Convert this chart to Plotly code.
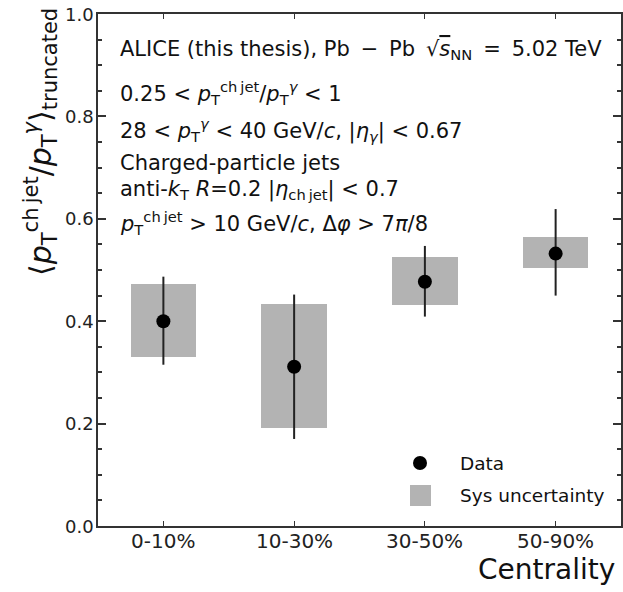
import plotly.graph_objects as go

# Centrality classes and measured values
centrality = ["0-10%", "10-30%", "30-50%", "50-90%"]
mean_ratio = [0.400, 0.311, 0.477, 0.532]
stat_lo = [0.085, 0.141, 0.068, 0.082]
stat_hi = [0.087, 0.141, 0.070, 0.087]
sys_lo = [0.069, 0.120, 0.045, 0.028]
sys_hi = [0.073, 0.123, 0.048, 0.032]
y_ticks = [0.0, 0.2, 0.4, 0.6, 0.8, 1.0]

W, H = 623, 592
ML, MR, MT, MB = 98, 2, 14, 66
PW, PH = W - ML - MR, H - MT - MB

FONT = "DejaVu Sans"
GREY = "#b3b3b3"
TS = "\u2009"  # thin space


def px_x(x):
    return (x - ML) / PW


def px_y(y):
    return (H - MB - y) / PH


xpos = list(range(len(centrality)))

fig = go.Figure()

# Systematic uncertainty boxes
fig.add_trace(go.Bar(
    x=xpos,
    y=[l + h for l, h in zip(sys_lo, sys_hi)],
    base=[m - l for m, l in zip(mean_ratio, sys_lo)],
    width=0.5,
    marker=dict(color=GREY, line=dict(width=0)),
    showlegend=False,
    hoverinfo="skip",
))

# Data points with statistical error bars
fig.add_trace(go.Scatter(
    x=xpos,
    y=mean_ratio,
    mode="markers",
    marker=dict(color="black", size=14),
    error_y=dict(type="data", symmetric=False, array=stat_hi, arrayminus=stat_lo,
                 color="#222222", thickness=2, width=0),
    showlegend=False,
))

axis_common = dict(
    showline=True, linecolor="#333333", linewidth=1.5, mirror="ticks",
    ticks="inside", tickcolor="#333333", showgrid=False, zeroline=False,
    showticklabels=False,
)

fig.update_xaxes(
    range=[-0.5, 3.5], tickvals=xpos, ticklen=5, tickwidth=1.2, **axis_common,
)
fig.update_yaxes(
    range=[0, 1.0], tickvals=y_ticks, ticklen=8, tickwidth=1.5,
    minor=dict(dtick=0.05, ticklen=4, tickcolor="#333333", ticks="inside", showgrid=False),
    **axis_common,
)

annotations = []

# Tick labels, placed close to the frame
for xv, lab in zip(xpos, centrality):
    annotations.append(dict(
        text=lab, xref="x", yref="paper", x=xv, y=px_y(541),
        xanchor="center", yanchor="middle", showarrow=False,
        font=dict(family=FONT, size=20, color="#222222"),
    ))
for yv in y_ticks:
    annotations.append(dict(
        text=f"{yv:.1f}", xref="paper", yref="y", x=px_x(95.5), y=yv,
        xanchor="right", yanchor="middle", showarrow=False,
        font=dict(family=FONT, size=18, color="#222222"),
    ))

# Rotated y-axis title
annotations.append(dict(
    text="⟨<i>p</i><sub>T</sub><sup>ch" + TS + "jet</sup>/<i>p</i><sub>T</sub><sup><i>γ</i></sup>⟩<sub>truncated</sub>",
    xref="paper", yref="paper", x=px_x(40), y=px_y(6), xanchor="center", yanchor="top",
    textangle=-90, showarrow=False, font=dict(family=FONT, size=30, color="#111111"),
))

# x-axis title
annotations.append(dict(
    text="Centrality", xref="paper", yref="paper", x=px_x(617), y=px_y(569),
    xanchor="right", yanchor="middle", showarrow=False,
    font=dict(family=FONT, size=28, color="#111111"),
))

# Text block describing the selection
info_lines = [
    ("ALICE (this thesis), Pb " + TS + "−" + TS + " Pb " + TS
     + "√<span style='text-decoration:overline'><i>s</i></span><sub>NN</sub> " + TS + "=" + TS + " 5.02 TeV", 50),
    ("0.25 < <i>p</i><sub>T</sub><sup>ch" + TS + "jet</sup>/<i>p</i><sub>T</sub><sup><i>γ</i></sup> < 1", 93),
    ("28 < <i>p</i><sub>T</sub><sup><i>γ</i></sup> < 40 GeV/<i>c</i>, |<i>η</i><sub><i>γ</i></sub>| < 0.67", 130),
    ("Charged-particle jets", 163),
    ("anti-<i>k</i><sub>T</sub> <i>R</i>=0.2 |<i>η</i><sub>ch" + TS + "jet</sub>| < 0.7", 190),
    ("<i>p</i><sub>T</sub><sup>ch" + TS + "jet</sup> > 10 GeV/<i>c</i>, Δ<i>φ</i> > 7<i>π</i>/8", 223),
]
for txt, yc in info_lines:
    annotations.append(dict(
        text=txt, xref="paper", yref="paper", x=px_x(118), y=px_y(yc),
        xanchor="left", yanchor="middle", showarrow=False,
        font=dict(family=FONT, size=21, color="#111111"),
    ))

# Legend entries
annotations.append(dict(
    text="Data", xref="paper", yref="paper", x=px_x(458), y=px_y(463),
    xanchor="left", yanchor="middle", showarrow=False,
    font=dict(family=FONT, size=18.5, color="#111111"),
))
annotations.append(dict(
    text="Sys uncertainty", xref="paper", yref="paper", x=px_x(458), y=px_y(495),
    xanchor="left", yanchor="middle", showarrow=False,
    font=dict(family=FONT, size=18.5, color="#111111"),
))

shapes = [
    dict(type="circle", xref="paper", yref="paper",
         x0=px_x(413), x1=px_x(427), y0=px_y(470), y1=px_y(456),
         fillcolor="black", line=dict(width=0)),
    dict(type="rect", xref="paper", yref="paper",
         x0=px_x(410), x1=px_x(431), y0=px_y(506), y1=px_y(485),
         fillcolor=GREY, line=dict(width=0)),
]

fig.update_layout(
    width=W, height=H,
    margin=dict(l=ML, r=MR, t=MT, b=MB, autoexpand=False),
    paper_bgcolor="white", plot_bgcolor="white",
    barmode="overlay", bargap=0,
    annotations=annotations, shapes=shapes,
    font=dict(family=FONT),
)

fig.write_html("out.html")
